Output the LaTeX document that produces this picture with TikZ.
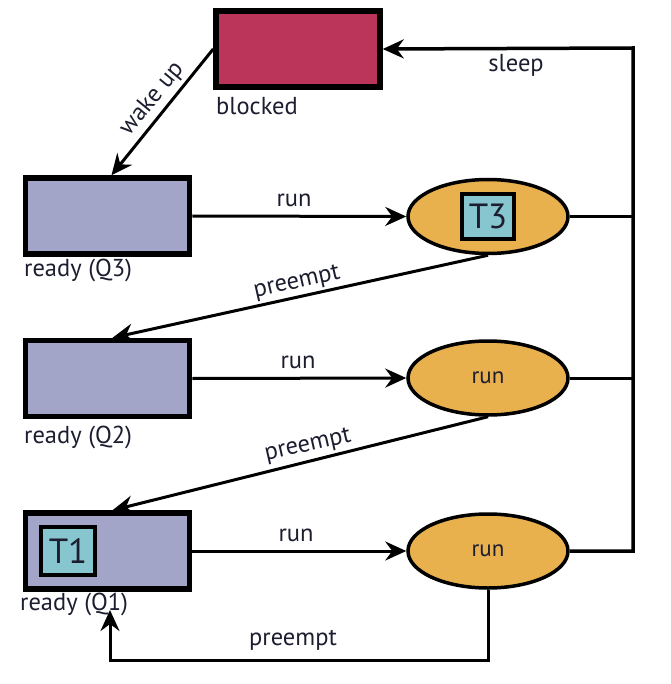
\documentclass[tikz,border=0pt]{standalone}
\usepackage{fontspec}
\setmainfont{PT Sans}
\usetikzlibrary{shapes.geometric,arrows.meta}
\definecolor{blockedfill}{RGB}{187,52,90}
\definecolor{readyfill}{RGB}{162,165,200}
\definecolor{runfill}{RGB}{233,177,78}
\definecolor{taskfill}{RGB}{135,198,207}
\definecolor{txt}{RGB}{28,30,48}
\tikzset{
  statebox/.style={draw=black, line width=5.5pt, rectangle, inner sep=0pt, minimum width=164pt, minimum height=76pt},
  runell/.style={draw=black, line width=3.5pt, ellipse, fill=runfill, inner sep=0pt, minimum width=160pt, minimum height=74pt, font=\fontsize{23}{26}\selectfont, text=txt},
  taskbox/.style={draw=black, line width=4pt, rectangle, fill=taskfill, inner sep=0pt, font=\fontsize{35}{38}\selectfont, text=txt},
  lbl/.style={font=\fontsize{24.5}{28}\selectfont, text=txt, inner sep=0pt},
  conn/.style={line width=3pt, draw=black},
  arr/.style={conn, -{Stealth[length=21pt,width=19pt,inset=7pt]}},
}
\begin{document}
\begin{tikzpicture}[x=1pt,y=-1pt]
\useasboundingbox (0,0) rectangle (670,684);
% boxes
\node[statebox, fill=blockedfill] (blocked) at (298,49) {};
\node[statebox, fill=readyfill] (Q3) at (107.5,216) {};
\node[statebox, fill=readyfill] (Q2) at (107.5,378.5) {};
\node[statebox, fill=readyfill] (Q1) at (107.5,551) {};
\node[taskbox, minimum width=54pt, minimum height=48pt] (T1) at (68,551) {T1};
% ellipses
\node[runell] (E3) at (488,216.5) {};
\node[taskbox, minimum width=52pt, minimum height=45pt] (T3) at (488,216.5) {T3};
\node[runell] (E2) at (488,378) {run};
\node[runell] (E1) at (488,551) {run};
% state labels
\node[lbl, anchor=west] (lb) at (216,106) {blocked};
\node[lbl, anchor=west] (l3) at (24,270) {ready (Q3)};
\node[lbl, anchor=west] (l2) at (24,437) {ready (Q2)};
\node[lbl, anchor=west] (l1) at (20,604) {ready (Q1)};
% coordinates
\coordinate (R) at (633,48);
\coordinate (Bc) at (110,660);
\coordinate (Q1in) at (110,610);
% connectors
\draw[arr] (blocked.west) -- ([xshift=4pt]Q3.north);
\draw[arr] (Q3.east) -- (E3.west);
\draw[arr] (Q2.east) -- (E2.west);
\draw[arr] (Q1.east) -- (E1.west);
\draw[conn] (E3.east) -- (E3.east -| R);
\draw[conn] (E2.east) -- (E2.east -| R);
\draw[arr, line width=3.5pt] (E1.east) -| (R) -- (blocked.east);
\draw[arr] (E3.south) -- ([xshift=5pt]Q2.north);
\draw[arr] (E2.south) -- ([xshift=5pt]Q1.north);
\draw[arr] (E1.south) |- (Bc) -- (Q1in);
% connector labels
\node[lbl, rotate=50.6] (lw) at (152,99) {wake up};
\node[lbl] (ls) at (516,65) {sleep};
\node[lbl] (lr3) at (294,200) {run};
\node[lbl] (lr2) at (298,362) {run};
\node[lbl] (lr1) at (296,535) {run};
\node[lbl, rotate=12.8] (lp3) at (297,283) {preempt};
\node[lbl, rotate=12.8] (lp2) at (308,446) {preempt};
\node[lbl] (lp1) at (293,640) {preempt};
\end{tikzpicture}
\end{document}
